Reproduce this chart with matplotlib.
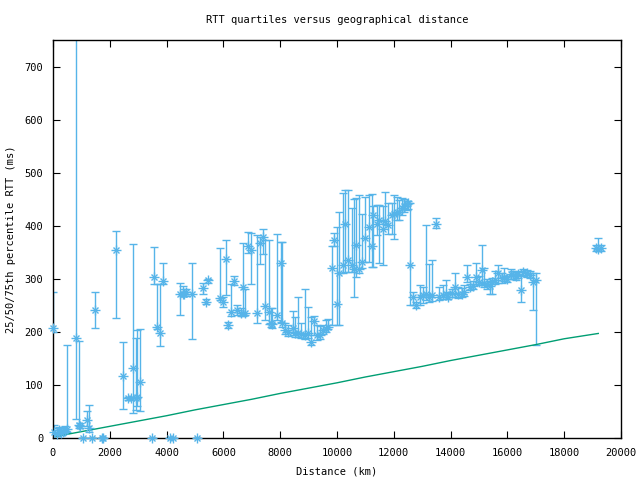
import matplotlib
matplotlib.use('Agg')
import matplotlib.pyplot as plt
import numpy as np

# distance (km), median and quartile RTTs (ms)
dist = [0, 50, 130, 200, 270, 350, 420, 480, 800, 900, 960, 1070, 1190, 1280, 1390,
        1480, 1710, 1760, 2210, 2480, 2650, 2740, 2800, 2910, 2970, 3060, 3500, 3570,
        3670, 3770, 3880, 4120, 4240, 4470, 4560, 4620, 4700, 4880, 5060, 5290, 5390,
        5470, 5890, 5990, 6100, 6170, 6260, 6370, 6490, 6620, 6700, 6760, 6880, 6970,
        7170, 7300, 7400, 7460, 7600, 7670, 7720, 7900, 8020, 8080, 8170, 8290, 8460,
        8520, 8640, 8720, 8870, 8990, 9080, 9190, 9280, 9400, 9520, 9610, 9690, 9810,
        9890, 10010, 10080, 10200, 10280, 10400, 10520, 10610, 10670, 10770, 10890,
        11000, 11110, 11220, 11280, 11400, 11490, 11610, 11690, 11810, 11930, 12010,
        12100, 12190, 12280, 12360, 12450, 12510, 12570, 12660, 12780, 12920, 13040,
        13120, 13250, 13330, 13490, 13600, 13720, 13830, 13920, 14060, 14150, 14270,
        14390, 14470, 14590, 14680, 14800, 14890, 15010, 15110, 15190, 15290, 15390,
        15450, 15560, 15680, 15800, 15880, 15990, 16120, 16210, 16300, 16390, 16490,
        16560, 16680, 16800, 16910, 17010, 19120, 19200, 19300]
rtt_med = [208, 12, 8, 15, 10, 12, 14, 17, 188, 24, 22, 0, 33, 19, 0,
           242, 0, 0, 355, 116, 75, 75, 131, 75, 78, 105, 0, 304,
           210, 197, 296, 0, 0, 271, 271, 272, 276, 271, 0, 282, 257,
           298, 264, 257, 338, 213, 238, 296, 241, 236, 284, 236, 362, 355,
           235, 367, 379, 249, 238, 216, 215, 232, 329, 217, 203, 199, 208,
           197, 197, 196, 194, 197, 181, 220, 194, 194, 203, 206, 210, 321,
           373, 252, 311, 326, 404, 335, 326, 318, 363, 318, 332,
           376, 397, 362, 421, 404, 411, 393, 408, 401, 421, 423,
           426, 425, 434, 437, 441, 442, 326, 265, 250, 265, 269,
           272, 266, 269, 404, 265, 269, 271, 266, 274, 284, 271,
           272, 276, 304, 284, 286, 303, 294, 316, 292, 291, 286,
           294, 298, 310, 301, 304, 299, 309, 307, 305, 309, 279,
           313, 310, 308, 294, 298, 358, 357, 358]
rtt_q25 = [200, 4, 3, 8, 5, 7, 9, 12, 35, 18, 18, 0, 23, 12, 0,
           208, 0, 0, 227, 54, 72, 72, 47, 53, 61, 50, 0, 291,
           205, 173, 290, 0, 0, 232, 268, 268, 268, 186, 0, 272, 253,
           293, 260, 247, 270, 208, 230, 288, 232, 229, 229, 232, 349, 291,
           217, 328, 346, 222, 215, 210, 208, 222, 219, 210, 196, 193, 195,
           190, 190, 188, 186, 188, 176, 195, 185, 186, 196, 200, 205, 213,
           361, 213, 213, 311, 313, 313, 313, 265, 304, 310, 320,
           332, 332, 323, 323, 382, 329, 326, 404, 385, 385, 375,
           410, 410, 420, 425, 430, 432, 250, 250, 245, 250, 255,
           260, 257, 258, 395, 260, 262, 262, 262, 266, 266, 263,
           266, 268, 294, 278, 280, 290, 288, 288, 284, 280, 272,
           272, 290, 292, 292, 296, 294, 300, 300, 298, 302, 256,
           305, 303, 302, 242, 175, 353, 352, 353]
rtt_q75 = [275, 25, 18, 20, 18, 20, 22, 175, 800, 182, 28, 0, 51, 62, 0,
           275, 0, 0, 391, 180, 78, 78, 366, 188, 203, 206, 0, 360,
           290, 290, 330, 0, 0, 292, 287, 281, 281, 329, 0, 292, 262,
           300, 358, 266, 374, 218, 290, 305, 250, 245, 368, 280, 389, 387,
           382, 379, 393, 374, 374, 245, 245, 384, 369, 369, 216, 213, 239,
           228, 266, 217, 280, 247, 228, 230, 213, 211, 213, 222, 224, 362,
           387, 398, 426, 461, 467, 468, 434, 450, 452, 458, 423,
           455, 458, 460, 437, 439, 439, 438, 464, 442, 442, 458,
           455, 448, 452, 450, 446, 446, 443, 275, 257, 289, 285,
           402, 327, 335, 414, 284, 288, 298, 276, 280, 311, 284,
           282, 288, 326, 290, 295, 329, 306, 363, 320, 300, 296,
           302, 315, 326, 310, 321, 306, 318, 314, 312, 315, 307,
           318, 316, 314, 310, 310, 364, 376, 364]

# lower bound line (speed of light in fibre)
bound_dist = [0, 1000, 2000, 3000, 4000, 5000, 6000, 7000, 8000, 9000, 10000,
              11000, 12000, 13000, 14000, 15000, 16000, 17000, 18000, 19200]
bound_rtt = [2, 12, 22, 32, 42, 53, 63, 73, 84, 94, 104,
             115, 125, 135, 146, 156, 166, 176, 187, 197]

blue = '#56b4e9'
green = '#009e73'

plt.rcParams['font.family'] = 'DejaVu Sans Mono'
plt.rcParams['font.size'] = 7

fig = plt.figure(figsize=(6.4, 4.8), dpi=100)
ax = fig.add_axes([53/640, 42/480, 568/640, 398/480])

med = np.array(rtt_med, dtype=float)
lo = med - np.array(rtt_q25)
hi = np.array(rtt_q75) - med
ax.errorbar(dist, med, yerr=[lo, hi], fmt='none', ecolor=blue, elinewidth=1,
            capsize=3, capthick=1)
ax.plot(dist, med, '+', color=blue, ms=7, mew=1, clip_on=False, zorder=3)
ax.plot(dist, med, 'x', color=blue, ms=5, mew=1, clip_on=False, zorder=3)

ax.plot(bound_dist, bound_rtt, color=green, lw=1)

ax.set_xlim(0, 20000)
ax.set_ylim(0, 750)
ax.set_xticks(np.arange(0, 20001, 2000))
ax.set_yticks(np.arange(0, 701, 100))
ax.tick_params(direction='in', length=5, top=True, right=True, labelsize=7.5, pad=7)
for s in ax.spines.values():
    s.set_linewidth(1)

ax.set_title('RTT quartiles versus geographical distance', fontsize=7.5, pad=12)
ax.set_xlabel('Distance (km)', fontsize=7.5, labelpad=6)
ax.set_ylabel('25/50/75th percentile RTT (ms)', fontsize=7.5, labelpad=6)

fig.savefig('out.png', dpi=100)
